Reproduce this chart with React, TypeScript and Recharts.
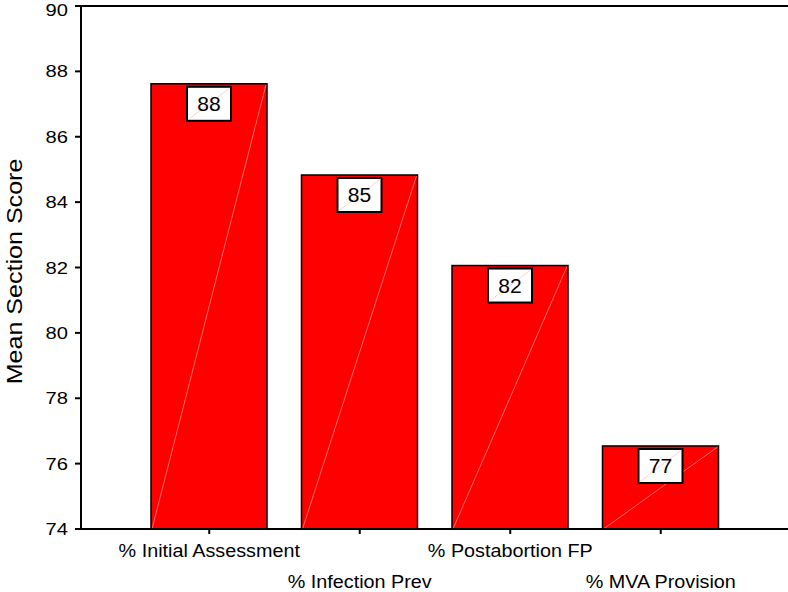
import React from "react";
import { BarChart, Bar, XAxis, YAxis, ReferenceLine, LabelList } from "recharts";

const categories = ["% Initial Assessment", "% Infection Prev", "% Postabortion FP", "% MVA Provision"];
const meanScores = [87.62, 84.83, 82.06, 76.54];
const yTicks = [74, 76, 78, 80, 82, 84, 86, 88, 90];

const data = categories.map((name, i) => ({ name, score: meanScores[i] }));

const FONT = "Liberation Sans, Arial, sans-serif";

const BarShape = (props: any) => {
  const { x, y, width, height } = props;
  return (
    <g>
      <rect x={x} y={y} width={width} height={height} fill="#ff0000" stroke="#000" strokeWidth={1.5} />
      <line x1={x + 1} y1={y + height} x2={x + width - 1} y2={y + 1} stroke="#ffb3b3" strokeWidth={0.6} />
    </g>
  );
};

const ValueLabel = (props: any) => {
  const { x, y, width, value } = props;
  const cx = x + width / 2;
  const bw = 44;
  const bh = 34;
  const bx = cx - bw / 2;
  const by = y + 3;
  return (
    <g>
      <rect x={bx} y={by} width={bw} height={bh} fill="#fff" stroke="#000" strokeWidth={2} />
      <line x1={bx + 1} y1={by + bh - 1} x2={bx + bw - 1} y2={by + 1} stroke="#ffb3b3" strokeWidth={0.6} />
      <text
        transform={`translate(${cx},${by + bh / 2 + 7}) scale(1.08,1)`}
        x={0}
        y={0}
        textAnchor="middle"
        fontSize={19.5}
        fontFamily={FONT}
        fill="#000"
      >
        {Math.round(value)}
      </text>
    </g>
  );
};

const XTick = (props: any) => {
  const { x, y, payload, index } = props;
  const dy = index % 2 === 0 ? 21 : 52;
  return (
    <text
      transform={`translate(${x},${y + dy}) scale(1.07,1)`}
      x={0}
      y={0}
      textAnchor="middle"
      fontSize={18.5}
      fontFamily={FONT}
      fill="#000"
    >
      {payload.value}
    </text>
  );
};

const YTick = (props: any) => {
  const { x, y, payload } = props;
  const base = Math.max(y + 6, 16);
  return (
    <text
      transform={`translate(${x},${base}) scale(1.2,1)`}
      x={0}
      y={0}
      textAnchor="end"
      fontSize={16.8}
      fontFamily={FONT}
      fill="#000"
    >
      {payload.value}
    </text>
  );
};

const YLabel = (props: any) => {
  const vb = props.viewBox || { y: 6, height: 523 };
  const cy = vb.y + vb.height / 2 + 4;
  return (
    <text
      transform={`translate(15,${cy}) rotate(-90) scale(1.14,1)`}
      x={0}
      y={0}
      textAnchor="middle"
      dominantBaseline="central"
      fontSize={22}
      fontFamily={FONT}
      fill="#000"
    >
      Mean Section Score
    </text>
  );
};

export default function App() {
  return (
    <div style={{ position: "absolute", left: 0, top: 0, width: 788, height: 592, background: "#fff" }}>
      <BarChart
        width={788}
        height={592}
        data={data}
        margin={{ top: 6, right: 0, bottom: 0, left: 0 }}
      >
        <XAxis
          dataKey="name"
          interval={0}
          tickSize={5}
          tickLine={{ stroke: "#000", strokeWidth: 2 }}
          axisLine={{ stroke: "#000", strokeWidth: 2 }}
          padding={{ left: 53, right: 52 }}
          height={63}
          tick={<XTick />}
        />
        <YAxis
          domain={[74, 90]}
          ticks={yTicks}
          width={81}
          tickSize={6}
          tickMargin={7}
          allowDataOverflow
          interval={0}
          tickLine={{ stroke: "#000", strokeWidth: 2 }}
          axisLine={{ stroke: "#000", strokeWidth: 2 }}
          tick={<YTick />}
          label={<YLabel />}
        />
        <ReferenceLine y={90} stroke="#000" strokeWidth={2} />
        <Bar dataKey="score" barSize={116} isAnimationActive={false} shape={<BarShape />}>
          <LabelList dataKey="score" content={<ValueLabel />} />
        </Bar>
      </BarChart>
    </div>
  );
}
